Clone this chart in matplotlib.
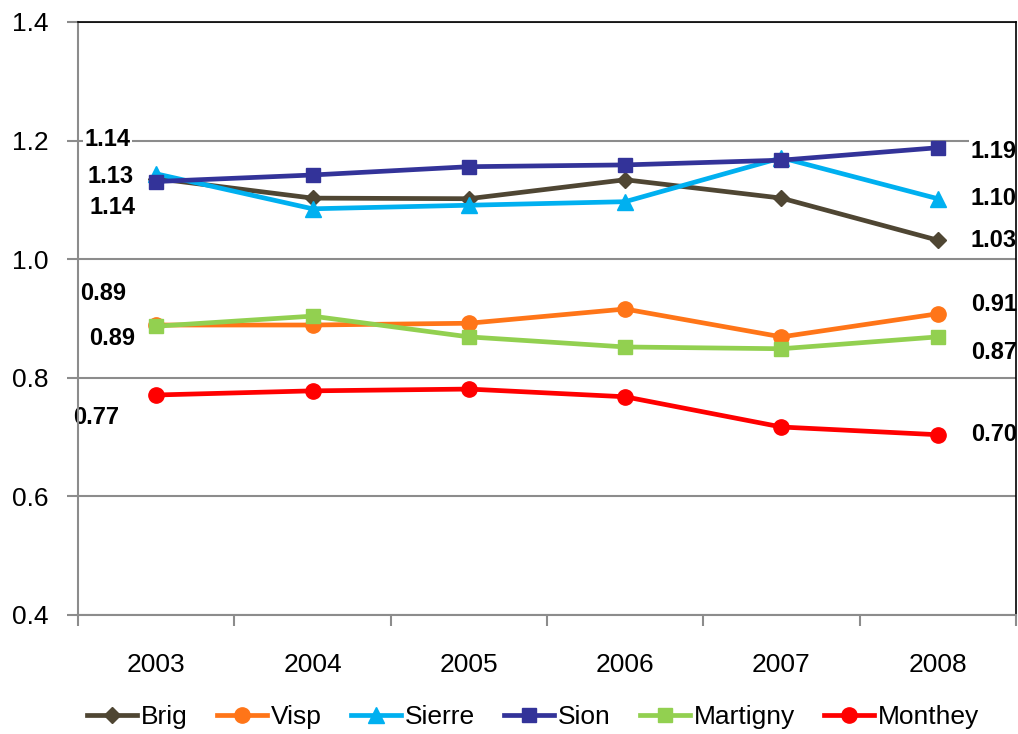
import numpy as np
import matplotlib.pyplot as plt
from matplotlib.ticker import FixedLocator, NullFormatter

plt.rcParams['font.family'] = ['Liberation Sans', 'DejaVu Sans']

# data
years = ['2003', '2004', '2005', '2006', '2007', '2008']
brig = [1.136, 1.103, 1.102, 1.134, 1.103, 1.032]
visp = [0.889, 0.889, 0.892, 0.916, 0.869, 0.908]
sierre = [1.144, 1.085, 1.091, 1.097, 1.171, 1.102]
sion = [1.131, 1.142, 1.156, 1.159, 1.167, 1.188]
martigny = [0.887, 0.904, 0.869, 0.852, 0.849, 0.869]
monthey = [0.771, 0.778, 0.781, 0.768, 0.717, 0.704]

names = ['Brig', 'Visp', 'Sierre', 'Sion', 'Martigny', 'Monthey']
values = [brig, visp, sierre, sion, martigny, monthey]
colors = ['#4F4633', '#FF7518', '#00B0F0', '#333399', '#92D050', '#FF0000']
markers = ['D', 'o', '^', 's', 's', 'o']
msizes = [8, 11, 11, 10, 10, 11]

# label offsets (pixels) for first / last value
first_off = {'Brig': (-44, -29), 'Visp': (-53, 32), 'Sierre': (-49, 34),
             'Sion': (-46, 5), 'Martigny': (-44, -12), 'Monthey': (-60, -23)}
last_off = {'Brig': (56, 0), 'Visp': (56, 9), 'Sierre': (56, 0),
            'Sion': (56, -4), 'Martigny': (56, -16), 'Monthey': (56, 0)}

fig = plt.figure(figsize=(10.18, 7.34), dpi=100)
ax = fig.add_axes([78/1018, 1-615/734, (1016-78)/1018, (615-22)/734])

x = np.arange(len(years))
for n, v, c, m, ms in zip(names, values, colors, markers, msizes):
    ax.plot(x, v, color=c, lw=3.4, marker=m, markersize=ms, label=n,
            markeredgecolor=c, zorder=3)

for n, v in zip(names, values):
    for xi, yi, off in [(x[0], v[0], first_off[n]), (x[-1], v[-1], last_off[n])]:
        ax.annotate('%.2f' % yi, (xi, yi), xytext=off, textcoords='offset pixels',
                    ha='center', va='center', fontsize=17, fontweight='bold',
                    bbox=dict(facecolor='white', edgecolor='none', pad=1),
                    zorder=2)

ax.set_ylim(0.4, 1.4)
ax.set_xlim(-0.5, 5.5)
ax.set_yticks([0.4, 0.6, 0.8, 1.0, 1.2, 1.4])
ax.set_yticklabels(['0.4', '0.6', '0.8', '1.0', '1.2', '1.4'])
ax.yaxis.grid(True, color='#8C8C8C', lw=1.5, zorder=0)
ax.set_axisbelow(True)

ax.set_xticks(x)
ax.set_xticklabels(years)
ax.xaxis.set_minor_locator(FixedLocator(np.arange(-0.5, 6, 1)))
ax.xaxis.set_minor_formatter(NullFormatter())
ax.tick_params(axis='x', which='major', length=0, pad=27, labelsize=19)
ax.tick_params(axis='x', which='minor', length=8, width=1.5, color='#8C8C8C')
ax.tick_params(axis='y', length=8, width=1.5, color='#8C8C8C', labelsize=19, pad=13)

for s in ['left', 'bottom']:
    ax.spines[s].set_color('#8C8C8C')
    ax.spines[s].set_linewidth(1.5)
for s in ['top', 'right']:
    ax.spines[s].set_color('black')
    ax.spines[s].set_linewidth(1.2)

fig.legend(loc='center', bbox_to_anchor=(533/1018, 1-717/734), ncol=6,
           frameon=False, fontsize=19, handlelength=1.9, handletextpad=0.15,
           columnspacing=1.1, borderaxespad=0)

fig.savefig('out.png', dpi=100)
